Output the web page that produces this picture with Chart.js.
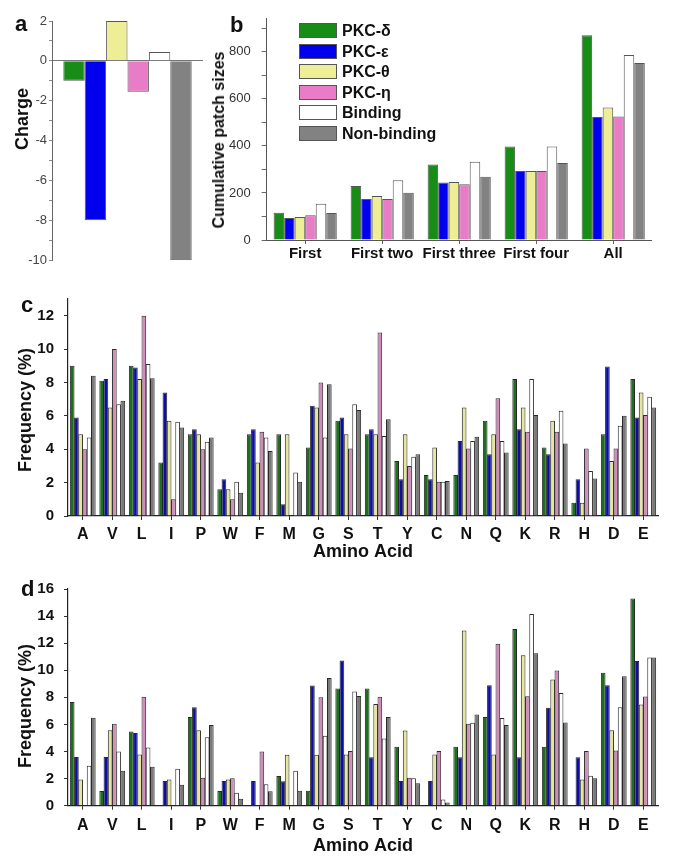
<!DOCTYPE html>
<html><head><meta charset="utf-8">
<script src="https://cdn.jsdelivr.net/npm/chart.js@4.4.0/dist/chart.umd.min.js"></script>
<style>
html,body{margin:0;padding:0;background:#fff;}
body{width:674px;height:859px;position:relative;overflow:hidden;font-family:'Liberation Sans',Arial,Helvetica,sans-serif;color:#111;}
.pane{position:absolute;}
.pane canvas{display:block;}
.letter{position:absolute;font-weight:bold;font-size:22px;line-height:22px;white-space:nowrap;}
.ytitle{position:absolute;font-weight:bold;white-space:nowrap;line-height:1;transform:translate(-50%,-50%) rotate(-90deg);}
.lg-row{position:absolute;height:15px;display:flex;align-items:center;}
.lg-box{width:36px;height:13px;border:1px solid #555;}
.lg-text{position:absolute;left:43px;top:-1px;font-weight:bold;font-size:16px;line-height:17px;white-space:nowrap;}
</style></head><body>

<div class="pane" style="left:0;top:0;width:210px;height:270px;"><canvas id="ca" width="210" height="270"></canvas></div>
<div class="pane" style="left:200px;top:0;width:474px;height:270px;"><canvas id="cb" width="474" height="270"></canvas></div>
<div class="pane" style="left:0;top:280px;width:674px;height:290px;"><canvas id="cc" width="674" height="290"></canvas></div>
<div class="pane" style="left:0;top:570px;width:674px;height:289px;"><canvas id="cd" width="674" height="289"></canvas></div>

<div class="letter" style="left:15px;top:13px;">a</div>
<div class="letter" style="left:230px;top:14px;">b</div>
<div class="letter" style="left:21px;top:294px;">c</div>
<div class="letter" style="left:21px;top:578px;">d</div>

<div class="ytitle" style="left:22px;top:119px;font-size:18px;">Charge</div>
<div class="ytitle" style="left:219px;top:140px;font-size:16px;">Cumulative patch sizes</div>
<div class="ytitle" style="left:25px;top:410px;font-size:18px;">Frequency (%)</div>
<div class="ytitle" style="left:25px;top:706px;font-size:18px;">Frequency (%)</div>

<div id="legend"></div>

<script>
// ---------------- data ----------------
const seriesNames = ['PKC-δ', 'PKC-ε', 'PKC-θ', 'PKC-η', 'Binding', 'Non-binding'];

// panel a: net charge per group
const chargeValues = [-1, -8, 2, -1.55, 0.45, -10];
const chargeTicks = [2, 0, -2, -4, -6, -8, -10];

// panel b: cumulative patch sizes
const patchCategories = ['First', 'First two', 'First three', 'First four', 'All'];
const patchDelta      = [116, 230, 321, 397, 870];
const patchEpsilon    = [94, 174, 244, 293, 523];
const patchTheta      = [98, 187, 246, 293, 563];
const patchEta        = [105, 174, 237, 293, 525];
const patchBinding    = [154, 254, 333, 397, 786];
const patchNonBinding = [115, 201, 269, 327, 752];

// panels c and d: amino acid frequencies (%)
const aminoAcids = ['A','V','L','I','P','W','F','M','G','S','T','Y','C','N','Q','K','R','H','D','E'];

const freqC_delta      = [9.0, 8.1, 9.0, 3.2, 4.9, 1.6, 4.9, 4.9, 4.1, 5.7, 4.9, 3.3, 2.45, 2.45, 5.7, 8.2, 4.1, 0.8, 4.9, 8.2];
const freqC_epsilon    = [5.9, 8.2, 8.9, 7.4, 5.2, 2.2, 5.2, 0.7, 6.6, 5.9, 5.2, 2.2, 2.2, 4.5, 3.7, 5.2, 3.7, 2.2, 8.95, 5.9];
const freqC_theta      = [4.9, 6.5, 8.2, 5.7, 4.9, 1.6, 3.2, 4.9, 6.5, 4.9, 4.9, 4.9, 4.1, 6.5, 4.9, 6.5, 5.7, 0.8, 3.3, 7.4];
const freqC_eta        = [4.0, 10.0, 12.0, 1.0, 4.0, 1.0, 5.05, 0, 8.0, 4.05, 11.0, 3.0, 2.05, 4.05, 7.05, 5.05, 5.05, 4.05, 4.05, 6.05];
const freqC_binding    = [4.7, 6.7, 9.1, 5.65, 4.45, 2.05, 4.7, 2.6, 4.7, 6.7, 4.8, 3.55, 2.05, 4.5, 4.5, 8.2, 6.3, 2.7, 5.4, 7.15];
const freqC_nonbinding = [8.4, 6.9, 8.25, 5.3, 4.7, 1.4, 3.9, 2.05, 7.9, 6.35, 5.8, 3.7, 2.1, 4.75, 3.8, 6.05, 4.35, 2.25, 6.0, 6.5];

const freqD_delta      = [7.66, 1.09, 5.48, 0, 6.55, 1.09, 0, 2.2, 1.1, 8.65, 8.65, 4.35, 0, 4.35, 6.55, 13.05, 4.35, 0, 9.81, 15.3];
const freqD_epsilon    = [3.6, 3.6, 5.37, 1.82, 7.26, 1.82, 1.82, 1.8, 8.87, 10.73, 3.57, 1.82, 1.82, 3.57, 8.89, 3.57, 7.23, 3.57, 8.89, 10.69];
const freqD_theta      = [1.94, 5.58, 3.78, 1.94, 5.58, 1.94, 0, 3.76, 3.76, 3.78, 7.5, 5.56, 3.78, 12.93, 3.78, 11.1, 9.31, 1.94, 5.58, 7.47];
const freqD_eta        = [0, 6.05, 8.04, 0, 2.06, 2.03, 4.0, 0, 8.0, 4.04, 8.04, 2.06, 4.04, 6.05, 11.96, 8.08, 9.98, 4.04, 4.07, 8.06];
const freqD_binding    = [2.95, 4.0, 4.3, 2.72, 5.06, 0.95, 1.58, 2.58, 5.17, 8.44, 4.96, 2.03, 0.45, 6.12, 6.48, 14.16, 8.32, 2.22, 7.26, 10.95];
const freqD_nonbinding = [6.5, 2.58, 2.88, 1.54, 5.96, 0.52, 1.06, 1.1, 9.43, 8.1, 6.55, 1.65, 0.24, 6.74, 5.96, 11.25, 6.15, 2.03, 9.55, 10.95];

// ---------------- styling ----------------
const FONT = "'Liberation Sans', Arial, Helvetica, sans-serif";
Chart.defaults.font.family = FONT;
Chart.defaults.animation = false;
Chart.defaults.color = '#111';

const colorsAB = ['#178c17', '#0000ee', '#eeee96', '#e87cc6', '#ffffff', '#828282'];
const colorsCD = ['#1d6e1d', '#0c0ca6', '#e6e69e', '#d08cba', '#ffffff', '#7a7a7a'];

function makeDatasets(arrays, colors, border, catPct, barPct) {
  return arrays.map((d, i) => ({
    label: seriesNames[i],
    data: d,
    backgroundColor: colors[i],
    borderColor: border,
    borderWidth: 1,
    categoryPercentage: catPct,
    barPercentage: barPct
  }));
}

const basePlugins = { legend: { display: false }, tooltip: { enabled: false } };

// ---------------- panel a ----------------
new Chart(document.getElementById('ca'), {
  type: 'bar',
  data: {
    labels: [''],
    datasets: makeDatasets(chargeValues.map(v => [v]), colorsAB, '#555', 0.85, 1)
  },
  options: {
    responsive: false,
    layout: { padding: { left: 0, top: 21, right: 7, bottom: 9 } },
    plugins: basePlugins,
    scales: {
      x: { display: false },
      y: {
        min: -10, max: 2,
        afterFit: s => { s.width = 52; },
        border: { color: '#666', width: 1 },
        grid: {
          drawOnChartArea: true,
          color: c => (c.tick && c.tick.value === 0) ? '#777' : 'rgba(0,0,0,0)',
          tickColor: '#888', tickLength: 3
        },
        ticks: {
          stepSize: 1, padding: 2, color: '#444',
          font: { size: 13 },
          callback: v => chargeTicks.includes(v) ? String(v) : ''
        }
      }
    }
  }
});

// ---------------- panel b ----------------
new Chart(document.getElementById('cb'), {
  type: 'bar',
  data: {
    labels: patchCategories,
    datasets: makeDatasets([patchDelta, patchEpsilon, patchTheta, patchEta, patchBinding, patchNonBinding], colorsAB, '#555', 0.82, 1)
  },
  options: {
    responsive: false,
    layout: { padding: { left: 0, top: 16.75, right: 22.3, bottom: 0 } },
    plugins: basePlugins,
    scales: {
      x: {
        afterFit: s => { s.height = 30; },
        border: { color: '#555', width: 1 },
        grid: { drawOnChartArea: false, tickColor: '#666', tickLength: 4, offset: false },
        ticks: { autoSkip: false, maxRotation: 0, minRotation: 0, padding: 1, font: { size: 15, weight: 'bold' }, color: '#111' }
      },
      y: {
        min: 0, max: 940,
        afterFit: s => { s.width = 66.7; },
        border: { color: '#555', width: 1 },
        grid: { drawOnChartArea: false, tickColor: '#666', tickLength: 5 },
        ticks: {
          stepSize: 100, includeBounds: false, padding: 11, color: '#333',
          font: { size: 13 },
          callback: v => (v % 200 === 0) ? String(v) : ''
        }
      }
    }
  }
});

// legend for panel b (HTML)
(function () {
  const lg = document.getElementById('legend');
  seriesNames.forEach((name, i) => {
    const row = document.createElement('div');
    row.className = 'lg-row';
    row.style.left = '299px';
    row.style.top = (23 + i * 20.5) + 'px';
    const box = document.createElement('div');
    box.className = 'lg-box';
    box.style.background = colorsAB[i];
    const t = document.createElement('div');
    t.className = 'lg-text';
    t.textContent = name;
    row.appendChild(box);
    row.appendChild(t);
    lg.appendChild(row);
  });
})();

// ---------------- panels c and d ----------------
function freqChart(id, arrays, ymax, pad, xHeight, tickPad) {
  return new Chart(document.getElementById(id), {
    type: 'bar',
    data: { labels: aminoAcids, datasets: makeDatasets(arrays, colorsCD, '#2a2a2a', 0.86, 1.1) },
    options: {
      responsive: false,
      layout: { padding: pad },
      plugins: basePlugins,
      scales: {
        x: {
          afterFit: s => { s.height = xHeight; },
          border: { color: '#222', width: 1.2 },
          grid: { drawOnChartArea: false, tickColor: '#333', tickLength: 4, offset: false },
          ticks: { autoSkip: false, maxRotation: 0, padding: tickPad, font: { size: 16, weight: 'bold' }, color: '#111' },
          title: { display: true, text: 'Amino Acid', font: { size: 18, weight: 'bold' }, color: '#111', padding: { top: 0, bottom: 0 } }
        },
        y: {
          min: 0, max: ymax,
          afterFit: s => { s.width = 68; },
          border: { color: '#222', width: 1.2 },
          grid: { drawOnChartArea: false, tickColor: '#333', tickLength: 4 },
          ticks: {
            stepSize: 1, includeBounds: false, padding: 10, color: '#111',
            font: { size: 15, weight: 'bold' },
            callback: v => (v % 2 === 0) ? String(v) : ''
          }
        }
      }
    }
  });
}

freqChart('cc',
  [freqC_delta, freqC_epsilon, freqC_theta, freqC_eta, freqC_binding, freqC_nonbinding],
  13, { left: 0, top: 9, right: 16, bottom: 7 }, 47, 5);

freqChart('cd',
  [freqD_delta, freqD_epsilon, freqD_theta, freqD_eta, freqD_binding, freqD_nonbinding],
  16, { left: 0, top: 10, right: 16, bottom: 1.8 }, 51.5, 6);
</script>
</body></html>
